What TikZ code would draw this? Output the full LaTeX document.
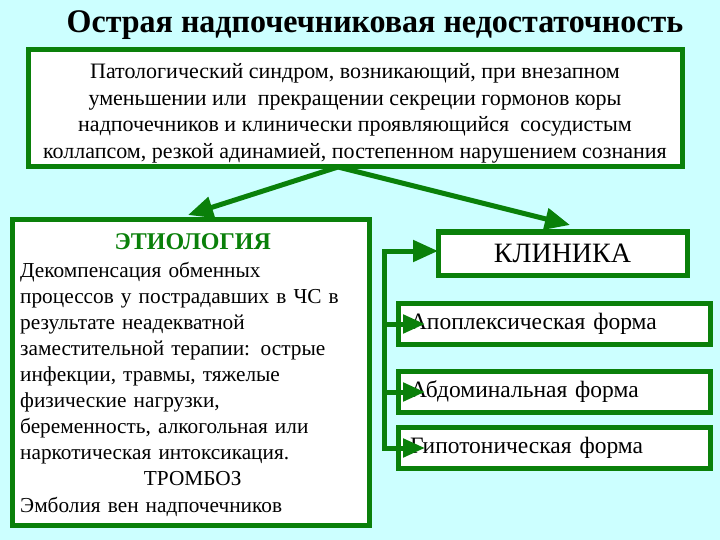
\documentclass[tikz,border=0pt]{standalone}
\usepackage{fontspec}
\setmainfont{Liberation Serif}
\usetikzlibrary{arrows.meta}
\definecolor{gr}{RGB}{10,128,10}
\definecolor{bg}{RGB}{204,255,255}
\begin{document}
\begin{tikzpicture}[x=1pt,y=-1pt,
  box/.style={draw=gr, line width=5pt, fill=white, inner sep=0pt, outer sep=0pt},
  conn/.style={draw=gr, line width=5pt},
  bigarr/.style={conn, -{Triangle[length=25pt,width=21pt]}},
  smallarr/.style={conn, -{Triangle[length=22pt,width=18pt]}},
  form/.style={box, minimum height=41pt, text width=288pt, inner xsep=12pt, inner ysep=0pt, align=left, font=\fontsize{23.5}{26}\selectfont}
]
\fill[bg] (0,0) rectangle (720,540);
\useasboundingbox (0,0) rectangle (720,540);

\node[font=\bfseries\fontsize{33}{40}\selectfont, anchor=base, inner sep=0pt] (title) at (375,33) {\scalebox{0.97}[1]{Острая надпочечниковая недостаточность}};

\node[box, minimum width=654pt, minimum height=117pt] (def) at (355,108.5) {};
\node[align=center, inner sep=0pt, font=\fontsize{22}{26.5}\selectfont] (deftext) at (355,113.5)
{Патологический синдром, возникающий, при внезапном\\
уменьшении или\ \ прекращении секреции гормонов коры\\
надпочечников и клинически проявляющийся\ \ сосудистым\\
коллапсом, резкой адинамией, постепенном нарушением сознания};

\node[box, minimum width=357pt, minimum height=305pt] (etio) at (190.5,372.5) {};
\node[anchor=north west, inner sep=0pt, text width=345pt, align=left, font=\fontsize{21.3}{26.1}\selectfont] (etiotext) at (20,233)
{\makebox[345pt]{\fontsize{24}{26}\selectfont\textcolor{gr}{\bfseries ЭТИОЛОГИЯ}}\\[2pt]
Декомпенсация обменных\\
процессов у пострадавших в ЧС в\\
результате неадекватной\\
заместительной терапии: острые\\
инфекции, травмы, тяжелые\\
физические нагрузки,\\
беременность, алкогольная или\\
наркотическая интоксикация.\\
\makebox[345pt]{ТРОМБОЗ}\\
Эмболия вен надпочечников};

\node[box, minimum width=249pt, minimum height=43pt, font=\fontsize{28}{30}\selectfont] (klin) at (562.5,253.5) {КЛИНИКА};

\node[form] (apo) at (554,324) {Апоплексическая форма};
\node[form] (abd) at (554,392) {Абдоминальная форма};
\node[form] (hyp) at (554,447.5) {Гипотоническая форма};

\draw[bigarr] ([xshift=-17pt]def.south) -- ([xshift=-2.5pt,yshift=5pt]etio.north);
\draw[bigarr] ([xshift=-17pt]def.south) -- ([xshift=7.5pt,yshift=7pt]klin.north);

\coordinate (bt) at (384,251);
\coordinate (bb) at (384,448);
\draw[conn, {Triangle[length=22pt,width=18pt]}-{Triangle[length=25pt,width=21pt]}] ([xshift=27pt]hyp.west |- bb) -- (bb) -- (bt) -- (klin.west |- bt);
\draw[smallarr] (bt |- apo.west) -- ([xshift=27pt]apo.west);
\draw[smallarr] (bt |- abd.west) -- ([xshift=27pt]abd.west);
\end{tikzpicture}
\end{document}
